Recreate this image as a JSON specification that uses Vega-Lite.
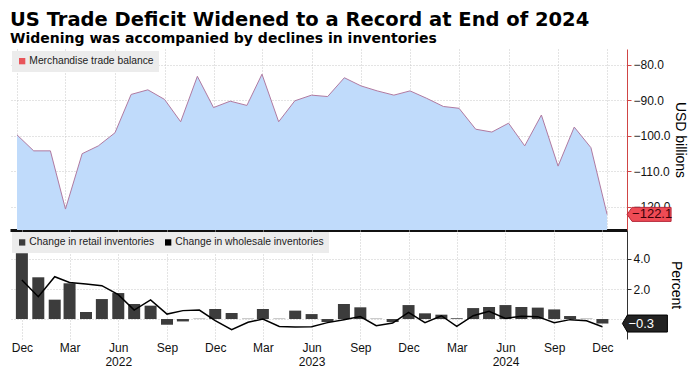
{
  "$schema": "https://vega.github.io/schema/vega-lite/v6.json",
  "background": "white",
  "padding": {"left": 10, "top": 9, "right": 6, "bottom": 0},
  "config": {"font": "Liberation Sans", "view": {"stroke": null}},
  "title": {
    "text": "US Trade Deficit Widened to a Record at End of 2024",
    "subtitle": "Widening was accompanied by declines in inventories",
    "anchor": "start", "frame": "group",
    "font": "DejaVu Sans", "fontSize": 19.5, "fontWeight": "bold", "color": "#000",
    "subtitleFont": "DejaVu Sans", "subtitleFontSize": 14, "subtitleFontWeight": "bold", "subtitleColor": "#000",
    "subtitlePadding": 2, "offset": 2
  },
  "spacing": 0,
  "resolve": {"scale": {"color": "independent"}, "legend": {"color": "independent"}},
  "datasets": {
    "m": [
      {"date": "2021-12-01", "trade": -99.7, "retail": 4.38, "wholesale": 2.6},
      {"date": "2022-01-01", "trade": -104.2, "retail": 2.78, "wholesale": 1.49},
      {"date": "2022-02-01", "trade": -104.2, "retail": 1.29, "wholesale": 2.82},
      {"date": "2022-03-01", "trade": -120.6, "retail": 2.38, "wholesale": 2.44},
      {"date": "2022-04-01", "trade": -105.0, "retail": 0.47, "wholesale": 2.33},
      {"date": "2022-05-01", "trade": -102.8, "retail": 1.33, "wholesale": 2.22},
      {"date": "2022-06-01", "trade": -99.1, "retail": 1.73, "wholesale": 1.62},
      {"date": "2022-07-01", "trade": -88.3, "retail": 1.0, "wholesale": 0.6},
      {"date": "2022-08-01", "trade": -87.0, "retail": 0.89, "wholesale": 1.27},
      {"date": "2022-09-01", "trade": -89.7, "retail": -0.38, "wholesale": 0.33},
      {"date": "2022-10-01", "trade": -96.0, "retail": -0.16, "wholesale": 0.56},
      {"date": "2022-11-01", "trade": -83.2, "retail": 0.02, "wholesale": 0.6},
      {"date": "2022-12-01", "trade": -92.0, "retail": 0.67, "wholesale": -0.11},
      {"date": "2023-01-01", "trade": -90.2, "retail": 0.4, "wholesale": -0.71},
      {"date": "2023-02-01", "trade": -91.4, "retail": 0.02, "wholesale": -0.22},
      {"date": "2023-03-01", "trade": -82.6, "retail": 0.67, "wholesale": 0.0},
      {"date": "2023-04-01", "trade": -96.0, "retail": 0.02, "wholesale": -0.49},
      {"date": "2023-05-01", "trade": -90.1, "retail": 0.56, "wholesale": -0.53},
      {"date": "2023-06-01", "trade": -88.5, "retail": 0.33, "wholesale": -0.51},
      {"date": "2023-07-01", "trade": -88.9, "retail": -0.2, "wholesale": -0.24},
      {"date": "2023-08-01", "trade": -83.6, "retail": 1.0, "wholesale": -0.05},
      {"date": "2023-09-01", "trade": -85.9, "retail": 0.78, "wholesale": 0.16},
      {"date": "2023-10-01", "trade": -87.3, "retail": 0.02, "wholesale": -0.44},
      {"date": "2023-11-01", "trade": -88.5, "retail": -0.2, "wholesale": -0.27},
      {"date": "2023-12-01", "trade": -87.3, "retail": 0.93, "wholesale": 0.44},
      {"date": "2024-01-01", "trade": -89.4, "retail": 0.38, "wholesale": -0.24},
      {"date": "2024-02-01", "trade": -91.7, "retail": 0.29, "wholesale": 0.22},
      {"date": "2024-03-01", "trade": -92.2, "retail": 0.05, "wholesale": -0.49},
      {"date": "2024-04-01", "trade": -98.1, "retail": 0.73, "wholesale": 0.22},
      {"date": "2024-05-01", "trade": -98.9, "retail": 0.8, "wholesale": 0.51},
      {"date": "2024-06-01", "trade": -96.4, "retail": 0.93, "wholesale": 0.04},
      {"date": "2024-07-01", "trade": -102.8, "retail": 0.8, "wholesale": 0.18},
      {"date": "2024-08-01", "trade": -94.1, "retail": 0.76, "wholesale": 0.16},
      {"date": "2024-09-01", "trade": -108.5, "retail": 0.64, "wholesale": -0.24},
      {"date": "2024-10-01", "trade": -97.5, "retail": 0.2, "wholesale": -0.04},
      {"date": "2024-11-01", "trade": -103.3, "retail": 0.02, "wholesale": -0.11},
      {"date": "2024-12-01", "trade": -122.1, "retail": -0.3, "wholesale": -0.51}
    ],
    "last": [
      {"date": "2024-12-01", "trade": -122.1, "retail": -0.3}
    ]
  },
  "vconcat": [
    {
      "width": 617,
      "height": 181,
      "data": {"name": "m"},
      "encoding": {
        "x": {
          "field": "date", "type": "temporal",
          "scale": {"type": "utc", "domain": [{"year": 2021, "month": 11, "date": 18, "utc": true}, {"year": 2025, "month": 1, "date": 7, "utc": true}]},
          "axis": {
            "title": null, "labels": false, "ticks": false,
            "domain": true, "domainColor": "#111", "domainWidth": 3,
            "grid": true, "gridColor": "#c8c8c8", "gridDash": [1, 2],
            "values": [
              {"year": 2021, "month": 12, "date": 1, "utc": true},
              {"year": 2022, "month": 3, "date": 1, "utc": true},
              {"year": 2022, "month": 6, "date": 1, "utc": true},
              {"year": 2022, "month": 9, "date": 1, "utc": true},
              {"year": 2022, "month": 12, "date": 1, "utc": true},
              {"year": 2023, "month": 3, "date": 1, "utc": true},
              {"year": 2023, "month": 6, "date": 1, "utc": true},
              {"year": 2023, "month": 9, "date": 1, "utc": true},
              {"year": 2023, "month": 12, "date": 1, "utc": true},
              {"year": 2024, "month": 3, "date": 1, "utc": true},
              {"year": 2024, "month": 6, "date": 1, "utc": true},
              {"year": 2024, "month": 9, "date": 1, "utc": true},
              {"year": 2024, "month": 12, "date": 1, "utc": true}
            ]
          }
        },
        "y": {
          "field": "trade", "type": "quantitative",
          "scale": {"domain": [-126.5, -75.5], "zero": false, "nice": false},
          "axis": {
            "orient": "right", "values": [-120, -110, -100, -90, -80], "format": ".1f",
            "labelFontSize": 12, "labelColor": "#111", "labelPadding": 2,
            "tickSize": 4, "tickColor": "#d04545",
            "domainColor": "#d04545",
            "grid": true, "gridColor": "#c8c8c8", "gridDash": [1, 2],
            "title": "USD billions", "titleFontSize": 14, "titleFontWeight": "normal", "titleColor": "#000", "titlePadding": 2
          }
        }
      },
      "layer": [
        {
          "mark": {"type": "area", "opacity": 1, "color": "#c0dbfb"},
          "encoding": {"y2": {"datum": -126.5}}
        },
        {
          "mark": {"type": "line", "color": "#b07aa1", "strokeWidth": 1}
        },
        {
          "data": {"name": "last"},
          "mark": {"type": "square", "size": 30, "opacity": 1, "strokeWidth": 0, "xOffset": 32},
          "encoding": {
            "color": {
              "datum": "Merchandise trade balance",
              "scale": {"domain": ["Merchandise trade balance"], "range": ["#e8555a"]},
              "legend": {
                "title": null, "orient": "top-left", "offset": 2, "padding": 5,
                "fillColor": "#ececec", "labelFontSize": 10.3, "labelColor": "#222", "labelFont": "Liberation Sans", "labelOffset": 2,
                "symbolType": "square", "symbolSize": 40, "symbolStrokeWidth": 0, "symbolOpacity": 1
              }
            }
          }
        },
        {
          "data": {"name": "last"},
          "mark": {"type": "point", "shape": "M0,0L0.5,-0.7L4.4,-0.7L4.4,0.7L0.5,0.7Z", "size": 400, "filled": true, "fill": "#ee4b55", "stroke": "#b5283a", "strokeWidth": 1, "opacity": 1, "xOffset": 20}
        },
        {
          "data": {"name": "last"},
          "mark": {"type": "text", "align": "left", "baseline": "middle", "xOffset": 25, "fontSize": 13, "color": "#3a0008"},
          "encoding": {"text": {"field": "trade", "type": "quantitative", "format": ".1f"}}
        }
      ]
    },
    {
      "width": 617,
      "height": 109,
      "data": {"name": "m"},
      "encoding": {
        "x": {
          "field": "date", "type": "temporal",
          "scale": {"type": "utc", "domain": [{"year": 2021, "month": 11, "date": 18, "utc": true}, {"year": 2025, "month": 1, "date": 7, "utc": true}]},
          "axis": {
            "title": null, "ticks": false, "domain": false,
            "grid": true, "gridColor": "#c8c8c8", "gridDash": [1, 2],
            "labelFontSize": 12, "labelColor": "#111", "labelPadding": 3, "labelLineHeight": 14,
            "labelExpr": "utcmonth(datum.value) == 5 ? [utcFormat(datum.value, '%b'), utcFormat(datum.value, '%Y')] : utcFormat(datum.value, '%b')",
            "values": [
              {"year": 2021, "month": 12, "date": 1, "utc": true},
              {"year": 2022, "month": 3, "date": 1, "utc": true},
              {"year": 2022, "month": 6, "date": 1, "utc": true},
              {"year": 2022, "month": 9, "date": 1, "utc": true},
              {"year": 2022, "month": 12, "date": 1, "utc": true},
              {"year": 2023, "month": 3, "date": 1, "utc": true},
              {"year": 2023, "month": 6, "date": 1, "utc": true},
              {"year": 2023, "month": 9, "date": 1, "utc": true},
              {"year": 2023, "month": 12, "date": 1, "utc": true},
              {"year": 2024, "month": 3, "date": 1, "utc": true},
              {"year": 2024, "month": 6, "date": 1, "utc": true},
              {"year": 2024, "month": 9, "date": 1, "utc": true},
              {"year": 2024, "month": 12, "date": 1, "utc": true}
            ]
          }
        },
        "y": {
          "field": "retail", "type": "quantitative",
          "scale": {"domain": [-1.33, 5.93], "zero": false, "nice": false},
          "axis": {
            "orient": "right", "values": [0, 2, 4], "format": ".1f",
            "labelFontSize": 12, "labelColor": "#111", "labelPadding": 2,
            "tickSize": 4, "tickColor": "#333",
            "domainColor": "#333",
            "grid": true, "gridColor": "#c8c8c8", "gridDash": [1, 2],
            "title": "Percent", "titleFontSize": 14, "titleFontWeight": "normal", "titleColor": "#000", "titlePadding": 19
          }
        }
      },
      "layer": [
        {
          "mark": {"type": "bar", "size": 12},
          "encoding": {
            "y2": {"datum": 0},
            "color": {
              "datum": "Change in retail inventories",
              "scale": {"domain": ["Change in retail inventories", "Change in wholesale inventories"], "range": ["#3c3c3c", "#000000"]},
              "legend": {
                "title": null, "orient": "top-left", "offset": 2, "padding": 5, "direction": "horizontal", "columnPadding": 8,
                "fillColor": "#ececec", "labelFontSize": 10.3, "labelColor": "#222", "labelFont": "Liberation Sans", "labelOffset": 2,
                "symbolType": "square", "symbolSize": 40, "symbolStrokeWidth": 0, "symbolOpacity": 1
              }
            }
          }
        },
        {
          "mark": {"type": "line", "strokeWidth": 1.5},
          "encoding": {
            "y": {"field": "wholesale", "type": "quantitative"},
            "color": {"datum": "Change in wholesale inventories"}
          }
        },
        {
          "data": {"name": "last"},
          "mark": {"type": "point", "shape": "M0,0L0.5,-0.85L4.5,-0.85L4.5,0.85L0.5,0.85Z", "size": 400, "filled": true, "fill": "#222222", "stroke": "#000", "strokeWidth": 1, "opacity": 1, "xOffset": 20}
        },
        {
          "data": {"name": "last"},
          "mark": {"type": "text", "align": "left", "baseline": "middle", "xOffset": 26, "fontSize": 13, "color": "#ffffff"},
          "encoding": {"text": {"field": "retail", "type": "quantitative", "format": ".1f"}}
        }
      ]
    }
  ]
}
